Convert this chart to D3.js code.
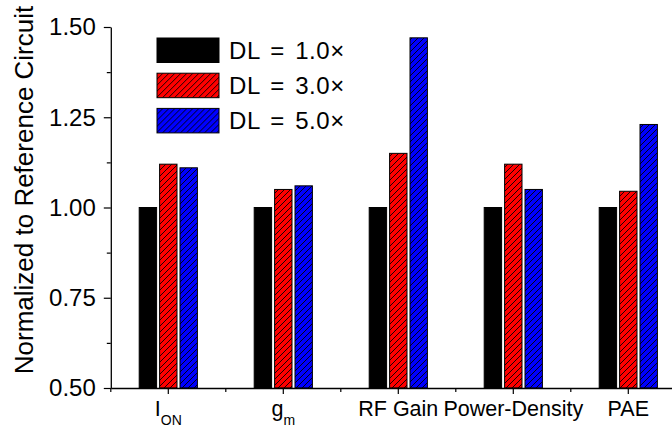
<!DOCTYPE html>
<html>
<head>
<meta charset="utf-8">
<script src="https://cdn.jsdelivr.net/npm/d3@7"></script>
<style>
  html, body { margin: 0; padding: 0; background: #fff; }
  svg { display: block; font-family: "Liberation Sans", Arial, Helvetica, sans-serif; }
</style>
</head>
<body>
<svg id="chart" width="672" height="428"></svg>
<script>
// Categories (main label text + subscript part)
const categories = ["ION", "gm", "RF Gain", "Power-Density", "PAE"];
const labelMain  = ["I", "g", "RF Gain", "Power-Density", "PAE"];
const labelSub   = ["ON", "m", "", "", ""];

// Series
const seriesNames = ["DL = 1.0\u00D7", "DL = 3.0\u00D7", "DL = 5.0\u00D7"];
const dl1 = [1.00, 1.00, 1.00, 1.00, 1.00];
const dl3 = [1.12, 1.05, 1.15, 1.12, 1.045];
const dl5 = [1.11, 1.06, 1.47, 1.05, 1.23];

// Axis ticks
const yMajorTicks = [0.50, 0.75, 1.00, 1.25, 1.50];
const yMinorTicks = [0.625, 0.875, 1.125, 1.375];

const seriesValues = [dl1, dl3, dl5];
const fills = ["#000000", "#ff0000", "#0000ff"];
const hatched = [false, true, true];

const svg = d3.select("#chart");

const plotLeft = 110.8, plotTop = 27, plotBottom = 388;
const step = 115;

const x0 = d3.scaleBand()
  .domain(categories)
  .range([plotLeft, plotLeft + step * categories.length])
  .paddingInner(0).paddingOuter(0);

const x1 = d3.scalePoint()
  .domain(d3.range(seriesNames.length))
  .range([-20.4, 20.4]);

const barW = 17.4;

const y = d3.scaleLinear().domain([0.5, 1.5]).range([plotBottom, plotTop]);

// Hatch patterns
const defs = svg.append("defs");
fills.forEach((c, i) => {
  if (!hatched[i]) return;
  const p = defs.append("pattern")
    .attr("id", "hatch" + i)
    .attr("patternUnits", "userSpaceOnUse")
    .attr("width", 6).attr("height", 6);
  p.append("rect").attr("width", 6).attr("height", 6).attr("fill", c);
  p.append("path")
    .attr("d", "M0,6 L6,0 M-1,1 L1,-1 M5,7 L7,5")
    .attr("stroke", "#000").attr("stroke-width", 0.9);
});
const fillFor = i => hatched[i] ? `url(#hatch${i})` : fills[i];

// Bars
const barData = [];
categories.forEach((c, ci) => {
  seriesValues.forEach((vals, si) => {
    barData.push({ c, si, v: vals[ci] });
  });
});

svg.append("g").selectAll("rect")
  .data(barData)
  .join("rect")
  .attr("x", d => x0(d.c) + x0.bandwidth() / 2 + x1(d.si) - barW / 2)
  .attr("y", d => y(d.v))
  .attr("width", barW)
  .attr("height", d => y(0.5) - y(d.v))
  .attr("fill", d => fillFor(d.si))
  .attr("stroke", "#000")
  .attr("stroke-width", 1);

// Y axis
const yAxis = svg.append("g")
  .attr("transform", `translate(${plotLeft},0)`)
  .call(d3.axisLeft(y).tickValues(yMajorTicks).tickSize(7).tickSizeOuter(0)
    .tickFormat(d3.format(".2f")));
yAxis.select(".domain").attr("stroke", "#000").attr("stroke-width", 1.3);
yAxis.selectAll(".tick line").attr("stroke", "#000").attr("stroke-width", 1.2);
yAxis.selectAll(".tick text")
  .attr("x", -15)
  .attr("dy", "0.33em")
  .attr("font-size", 24)
  .attr("font-family", "Liberation Sans, Arial, sans-serif")
  .attr("fill", "#000");

const yMinor = svg.append("g")
  .attr("transform", `translate(${plotLeft},0)`)
  .call(d3.axisLeft(y).tickValues(yMinorTicks).tickSize(4).tickFormat(""));
yMinor.select(".domain").remove();
yMinor.selectAll(".tick line").attr("stroke", "#000").attr("stroke-width", 1.2);

// X axis
const xAxis = svg.append("g")
  .attr("transform", `translate(0,${plotBottom})`)
  .call(d3.axisBottom(x0).tickSize(6).tickSizeOuter(0).tickFormat(""));
xAxis.select(".domain").attr("stroke", "#000").attr("stroke-width", 1.3);
xAxis.selectAll(".tick line").attr("stroke", "#000").attr("stroke-width", 1.2);

// Minor x ticks at category boundaries
const bounds = categories.map(c => x0(c)).concat([x0.range()[1]]);
svg.append("g").selectAll("line")
  .data(bounds)
  .join("line")
  .attr("x1", d => d).attr("x2", d => d)
  .attr("y1", plotBottom).attr("y2", plotBottom + 4)
  .attr("stroke", "#000").attr("stroke-width", 1.2);

// X labels with subscripts
const xl = svg.append("g").selectAll("text")
  .data(categories)
  .join("text")
  .attr("x", d => x0(d) + x0.bandwidth() / 2)
  .attr("y", 416)
  .attr("text-anchor", "middle")
  .attr("font-size", 21.5)
  .attr("fill", "#000");
xl.append("tspan").text((d, i) => labelMain[i]);
xl.filter((d, i) => labelSub[i] !== "")
  .append("tspan")
  .attr("dy", 9)
  .attr("font-size", 14)
  .text(d => labelSub[categories.indexOf(d)]);

// Y label
svg.append("text")
  .attr("transform", "translate(33,190) rotate(-90)")
  .attr("text-anchor", "middle")
  .attr("font-size", 26)
  .attr("fill", "#000")
  .text("Normalized to Reference Circuit");

// Legend
const legend = svg.append("g");
const legRows = legend.selectAll("g")
  .data(seriesNames)
  .join("g")
  .attr("transform", (d, i) => `translate(157,${38 + i * 35.2})`);
legRows.append("rect")
  .attr("width", 62).attr("height", 24.5)
  .attr("fill", (d, i) => fillFor(i))
  .attr("stroke", "#000").attr("stroke-width", 1);
legRows.append("text")
  .attr("x", 72).attr("y", 20.5)
  .attr("font-size", 24)
  .attr("letter-spacing", 0.6)
  .attr("word-spacing", 3)
  .attr("fill", "#000")
  .text(d => d);
</script>
</body>
</html>
